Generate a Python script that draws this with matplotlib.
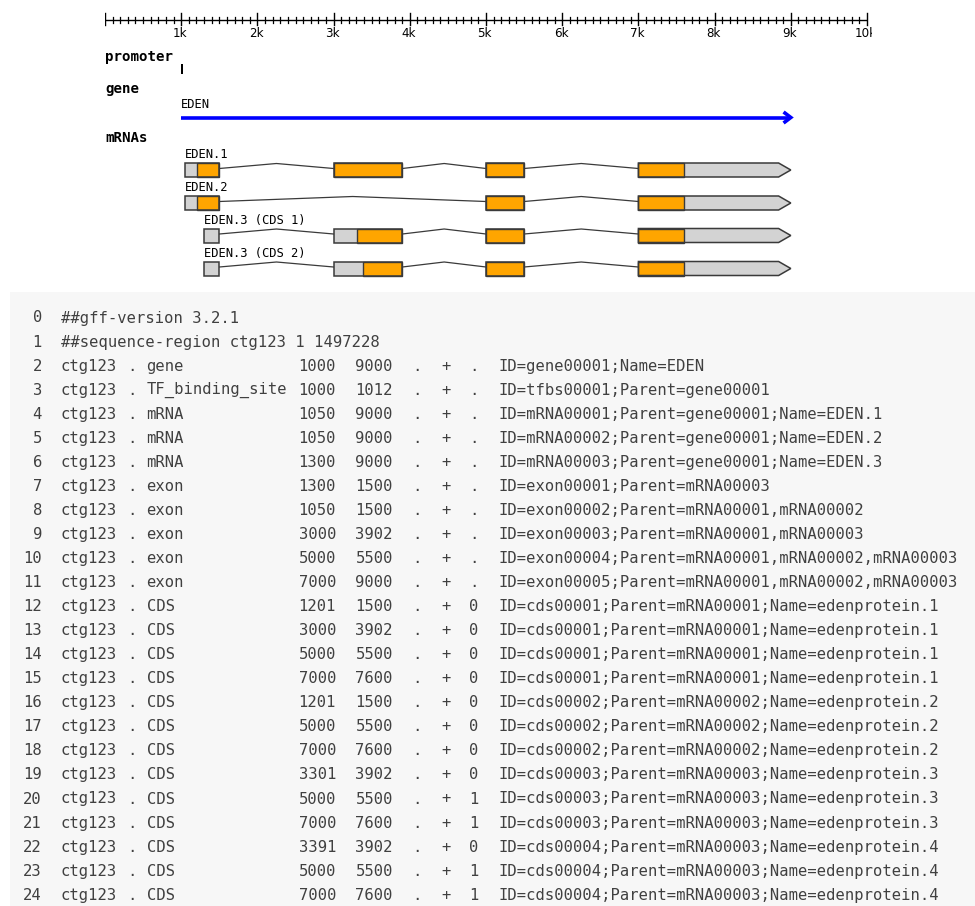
import matplotlib
matplotlib.use("Agg")
import matplotlib.pyplot as plt
from matplotlib.patches import Polygon, Rectangle

# ---------------- data ----------------
ruler_max = 10000
ruler_labels = ["1k", "2k", "3k", "4k", "5k", "6k", "7k", "8k", "9k", "10k"]
promoter = (1000, 1012)
gene_start, gene_end, gene_name = 1000, 9000, "EDEN"

mrna_names = ["EDEN.1", "EDEN.2", "EDEN.3 (CDS 1)", "EDEN.3 (CDS 2)"]
mrna_exons = [
    [(1050, 1500), (3000, 3902), (5000, 5500), (7000, 9000)],
    [(1050, 1500), (5000, 5500), (7000, 9000)],
    [(1300, 1500), (3000, 3902), (5000, 5500), (7000, 9000)],
    [(1300, 1500), (3000, 3902), (5000, 5500), (7000, 9000)],
]
mrna_cds = [
    [(1201, 1500), (3000, 3902), (5000, 5500), (7000, 7600)],
    [(1201, 1500), (5000, 5500), (7000, 7600)],
    [(3301, 3902), (5000, 5500), (7000, 7600)],
    [(3391, 3902), (5000, 5500), (7000, 7600)],
]

header_lines = ["##gff-version 3.2.1", "##sequence-region ctg123 1 1497228"]
seqid = ["ctg123"] * 23
source = ["."] * 23
ftype = ["gene", "TF_binding_site", "mRNA", "mRNA", "mRNA", "exon", "exon", "exon",
         "exon", "exon", "CDS", "CDS", "CDS", "CDS", "CDS", "CDS", "CDS", "CDS", "CDS",
         "CDS", "CDS", "CDS", "CDS"]
start = [1000, 1000, 1050, 1050, 1300, 1300, 1050, 3000, 5000, 7000, 1201, 3000, 5000,
         7000, 1201, 5000, 7000, 3301, 5000, 7000, 3391, 5000, 7000]
end = [9000, 1012, 9000, 9000, 9000, 1500, 1500, 3902, 5500, 9000, 1500, 3902, 5500,
       7600, 1500, 5500, 7600, 3902, 5500, 7600, 3902, 5500, 7600]
score = ["."] * 23
strand = ["+"] * 23
phase = [".", ".", ".", ".", ".", ".", ".", ".", ".", ".", "0", "0", "0", "0", "0", "0",
         "0", "0", "1", "1", "0", "1", "1"]
attributes = [
    "ID=gene00001;Name=EDEN",
    "ID=tfbs00001;Parent=gene00001",
    "ID=mRNA00001;Parent=gene00001;Name=EDEN.1",
    "ID=mRNA00002;Parent=gene00001;Name=EDEN.2",
    "ID=mRNA00003;Parent=gene00001;Name=EDEN.3",
    "ID=exon00001;Parent=mRNA00003",
    "ID=exon00002;Parent=mRNA00001,mRNA00002",
    "ID=exon00003;Parent=mRNA00001,mRNA00003",
    "ID=exon00004;Parent=mRNA00001,mRNA00002,mRNA00003",
    "ID=exon00005;Parent=mRNA00001,mRNA00002,mRNA00003",
    "ID=cds00001;Parent=mRNA00001;Name=edenprotein.1",
    "ID=cds00001;Parent=mRNA00001;Name=edenprotein.1",
    "ID=cds00001;Parent=mRNA00001;Name=edenprotein.1",
    "ID=cds00001;Parent=mRNA00001;Name=edenprotein.1",
    "ID=cds00002;Parent=mRNA00002;Name=edenprotein.2",
    "ID=cds00002;Parent=mRNA00002;Name=edenprotein.2",
    "ID=cds00002;Parent=mRNA00002;Name=edenprotein.2",
    "ID=cds00003;Parent=mRNA00003;Name=edenprotein.3",
    "ID=cds00003;Parent=mRNA00003;Name=edenprotein.3",
    "ID=cds00003;Parent=mRNA00003;Name=edenprotein.3",
    "ID=cds00004;Parent=mRNA00003;Name=edenprotein.4",
    "ID=cds00004;Parent=mRNA00003;Name=edenprotein.4",
    "ID=cds00004;Parent=mRNA00003;Name=edenprotein.4",
]

# ---------------- figure ----------------
W, H = 975, 906
fig = plt.figure(figsize=(W / 100, H / 100), dpi=100)
fig.patch.set_facecolor("white")

# ---- table axes (pixel coords) ----
tax = fig.add_axes([0, 0, 1, 1])
tax.set_xlim(0, W)
tax.set_ylim(H, 0)
tax.axis("off")
tax.add_patch(Rectangle((10, 292), W - 10, H - 292, facecolor="#f7f7f7", edgecolor="none", zorder=0))

mono = "DejaVu Sans Mono"
tcol = "#404040"
tfs = 11.2
row0_y, row_dy = 318, 24.05
cw = 9.5
x0 = 61
col_off = {"seqid": 0, "source": 7, "type": 9, "start": 25, "end": 31,
           "score": 37, "strand": 40, "phase": 43, "attr": 46}

def tt(x, y, s, ha="left"):
    tax.text(x, y, s, fontsize=tfs, family=mono, color=tcol, ha=ha, va="center", zorder=2)

for i, line in enumerate(header_lines):
    y = row0_y + i * row_dy
    tt(42, y, str(i), ha="right")
    tt(x0, y, line)

for j in range(len(seqid)):
    i = j + 2
    y = row0_y + i * row_dy
    tt(42, y, str(i), ha="right")
    vals = {"seqid": seqid[j], "source": source[j], "type": ftype[j],
            "start": str(start[j]), "end": str(end[j]), "score": score[j],
            "strand": strand[j], "phase": phase[j], "attr": attributes[j]}
    for k, v in vals.items():
        tt(x0 + col_off[k] * cw, y, v)

# ---- gene diagram axes ----
left_px, right_px = 105, 867
px_per_bp = (right_px - left_px) / ruler_max
xmax = ruler_max + 70
ax = fig.add_axes([left_px / W, 1 - 290 / H, (xmax * px_per_bp) / W, 290 / H])
ax.set_xlim(0, xmax)
ax.set_ylim(290, 0)
ax.axis("off")
ax.patch.set_alpha(0)

# ruler
ry = 19.5
ax.plot([0, ruler_max], [ry, ry], color="black", lw=1.0, solid_capstyle="butt")
for p in range(0, ruler_max + 1, 100):
    if p % 1000 == 0:
        ax.plot([p, p], [ry - 6.5, ry + 5], color="black", lw=1.0)
    else:
        ax.plot([p, p], [ry - 3, ry + 3], color="black", lw=0.9)
for k, lab in enumerate(ruler_labels):
    p = (k + 1) * 1000
    ax.text(p - 15, 33.5, lab, fontsize=8.6, family="DejaVu Sans", ha="center", va="center",
            color="black", clip_on=True)

# track labels
lab_kw = dict(fontsize=10.2, family=mono, fontweight="bold", ha="left", va="center", color="black")
ax.text(0, 56.5, "promoter", **lab_kw)
ax.text(0, 88.5, "gene", **lab_kw)
ax.text(0, 137.5, "mRNAs", **lab_kw)

# promoter
ax.add_patch(Rectangle((promoter[0], 64), max(promoter[1] - promoter[0], 30), 9.5,
                       facecolor="black", edgecolor="none"))

# gene
gy = 117.5
ax.text(gene_start, 104.5, gene_name, fontsize=8.7, family=mono, ha="left", va="center", color="black")
ax.plot([gene_start, gene_end - 10], [gy, gy], color="#0000ff", lw=2.6, solid_capstyle="butt")
ah_len = 95
ax.plot([gene_end - ah_len, gene_end, gene_end - ah_len], [gy - 5.5, gy, gy + 5.5],
        color="#0000ff", lw=2.6, solid_joinstyle="miter", solid_capstyle="butt")

# mRNAs
row_y = [170, 203, 235.5, 268.5]
hh = 7
tip = 160
orange = "#ffa500"
grey = "#d3d3d3"
edge = "#3a3a3a"
for r, name in enumerate(mrna_names):
    yc = row_y[r]
    exons = mrna_exons[r]
    cds = mrna_cds[r]
    ax.text(exons[0][0], yc - 15.5, name, fontsize=8.7, family=mono, ha="left", va="center",
            color="black")
    # introns
    for (a, b), (c, d) in zip(exons[:-1], exons[1:]):
        ax.plot([b, (b + c) / 2, c], [yc - 1.5, yc - 6.5, yc - 1.5], color=edge, lw=0.9)
    for ei, (a, b) in enumerate(exons):
        last = ei == len(exons) - 1
        if last:
            pts = [(a, yc - hh), (b - tip, yc - hh), (b, yc), (b - tip, yc + hh), (a, yc + hh)]
        else:
            pts = [(a, yc - hh), (b, yc - hh), (b, yc + hh), (a, yc + hh)]
        ax.add_patch(Polygon(pts, closed=True, facecolor=grey, edgecolor="none", zorder=3))
        for (cs, ce) in cds:
            s, e = max(cs, a), min(ce, b)
            if s < e:
                ax.add_patch(Rectangle((s, yc - hh), e - s, 2 * hh, facecolor=orange,
                                       edgecolor=edge, lw=1.0, zorder=4))
        ax.add_patch(Polygon(pts, closed=True, facecolor="none", edgecolor=edge, lw=1.1,
                             zorder=5, joinstyle="miter"))

fig.savefig("out.png", dpi=100)
